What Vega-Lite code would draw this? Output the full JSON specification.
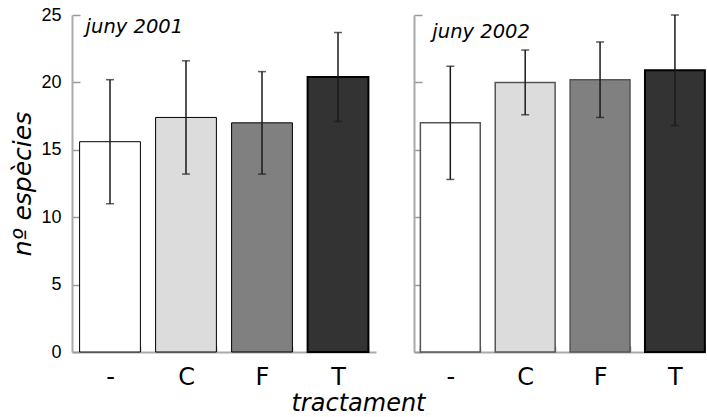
{
  "$schema": "https://vega.github.io/schema/vega-lite/v6.json",
  "background": "white",
  "padding": {"left": 10, "top": 6, "right": 0, "bottom": 0},
  "spacing": 37,
  "datasets": {
    "any2001": [
      {"trat": "-", "mitjana": 15.6, "inf": 11.0, "sup": 20.2},
      {"trat": "C", "mitjana": 17.4, "inf": 13.2, "sup": 21.6},
      {"trat": "F", "mitjana": 17.0, "inf": 13.2, "sup": 20.8},
      {"trat": "T", "mitjana": 20.4, "inf": 17.1, "sup": 23.7}
    ],
    "any2002": [
      {"trat": "-", "mitjana": 17.0, "inf": 12.8, "sup": 21.2},
      {"trat": "C", "mitjana": 20.0, "inf": 17.6, "sup": 22.4},
      {"trat": "F", "mitjana": 20.2, "inf": 17.4, "sup": 23.0},
      {"trat": "T", "mitjana": 20.9, "inf": 16.8, "sup": 25.0}
    ]
  },
  "title": {
    "text": "tractament",
    "orient": "bottom",
    "anchor": "middle",
    "font": "DejaVu Sans",
    "fontStyle": "italic",
    "fontWeight": "normal",
    "fontSize": 24,
    "color": "#000",
    "offset": 3
  },
  "config": {
    "view": {"stroke": null},
    "scale": {"continuousPadding": 0},
    "axis": {
      "grid": false,
      "domainColor": "#aaaaaa",
      "domainWidth": 2,
      "tickColor": "#999999",
      "tickWidth": 1.5,
      "labelColor": "#000",
      "titleColor": "#000"
    }
  },
  "hconcat": [
    {
      "width": 304,
      "height": 337,
      "data": {"name": "any2001"},
      "encoding": {
        "x": {
          "field": "trat",
          "type": "nominal",
          "sort": ["-", "C", "F", "T"],
          "scale": {"paddingInner": 0.2, "paddingOuter": 0.1},
          "axis": {
            "title": null,
            "labelAngle": 0,
            "labelFont": "DejaVu Sans",
            "labelFontSize": 24,
            "labelPadding": 19,
            "tickBand": "extent",
            "tickSize": -6,
            "tickColor": "#888888"
          }
        }
      },
      "layer": [
        {
          "mark": {"type": "bar", "stroke": "#000"},
          "encoding": {
            "y": {
              "field": "mitjana",
              "type": "quantitative",
              "scale": {"domain": [0, 25], "padding": 0, "nice": false, "zero": true},
              "axis": {
                "values": [0, 5, 10, 15, 20, 25],
                "tickSize": -8,
                "labelFont": "Liberation Sans",
                "labelFontSize": 18,
                "labelPadding": 19,
                "title": "nº espècies",
                "titleFont": "DejaVu Sans",
                "titleFontStyle": "italic",
                "titleFontWeight": "normal",
                "titleFontSize": 25,
                "titlePadding": 5
              }
            },
            "fill": {
              "field": "trat",
              "type": "nominal",
              "scale": {"domain": ["-", "C", "F", "T"], "range": ["#ffffff", "#dcdcdc", "#808080", "#333333"]},
              "legend": null
            },
            "strokeWidth": {"condition": {"test": "datum.trat === 'T'", "value": 2}, "value": 1}
          }
        },
        {
          "mark": {"type": "rule", "color": "#1a1a1a", "strokeWidth": 1.5},
          "encoding": {
            "y": {"field": "inf", "type": "quantitative"},
            "y2": {"field": "sup"}
          }
        },
        {
          "mark": {"type": "tick", "color": "#1a1a1a", "size": 8, "thickness": 1.5},
          "encoding": {"y": {"field": "sup", "type": "quantitative"}}
        },
        {
          "mark": {"type": "tick", "color": "#1a1a1a", "size": 8, "thickness": 1.5},
          "encoding": {"y": {"field": "inf", "type": "quantitative"}}
        },
        {
          "data": {"values": [{"etiqueta": "juny 2001"}]},
          "mark": {"type": "text", "font": "DejaVu Sans", "fontStyle": "italic", "fontSize": 19.5, "align": "left", "baseline": "alphabetic", "dx": 6, "dy": 18, "color": "#000"},
          "encoding": {
            "x": {"datum": "-", "bandPosition": 0},
            "y": {"datum": 25},
            "text": {"field": "etiqueta"}
          }
        }
      ]
    },
    {
      "width": 292,
      "height": 337,
      "data": {"name": "any2002"},
      "encoding": {
        "x": {
          "field": "trat",
          "type": "nominal",
          "sort": ["-", "C", "F", "T"],
          "scale": {"paddingInner": 0.2, "paddingOuter": 0.05, "align": 0.85},
          "axis": {
            "title": null,
            "labelAngle": 0,
            "labelFont": "DejaVu Sans",
            "labelFontSize": 24,
            "labelPadding": 19,
            "tickBand": "extent",
            "tickSize": -6,
            "tickColor": "#888888"
          }
        }
      },
      "layer": [
        {
          "mark": {"type": "bar", "stroke": "#555555", "strokeWidth": 1.5},
          "encoding": {
            "y": {
              "field": "mitjana",
              "type": "quantitative",
              "scale": {"domain": [0, 25], "padding": 0, "nice": false, "zero": true},
              "axis": {
                "values": [0, 5, 10, 15, 20, 25],
                "tickSize": -8,
                "labels": false,
                "title": null
              }
            },
            "fill": {
              "field": "trat",
              "type": "nominal",
              "scale": {"domain": ["-", "C", "F", "T"], "range": ["#ffffff", "#dcdcdc", "#808080", "#333333"]},
              "legend": null
            },
            "stroke": {"condition": {"test": "datum.trat === 'T'", "value": "#000"}, "value": "#555555"},
            "strokeWidth": {"condition": {"test": "datum.trat === 'T'", "value": 2}, "value": 1.5}
          }
        },
        {
          "mark": {"type": "rule", "color": "#1a1a1a", "strokeWidth": 1.5},
          "encoding": {
            "y": {"field": "inf", "type": "quantitative"},
            "y2": {"field": "sup"}
          }
        },
        {
          "mark": {"type": "tick", "color": "#1a1a1a", "size": 8, "thickness": 1.5},
          "encoding": {"y": {"field": "sup", "type": "quantitative"}}
        },
        {
          "mark": {"type": "tick", "color": "#1a1a1a", "size": 8, "thickness": 1.5},
          "encoding": {"y": {"field": "inf", "type": "quantitative"}}
        },
        {
          "data": {"values": [{"etiqueta": "juny 2002"}]},
          "mark": {"type": "text", "font": "DejaVu Sans", "fontStyle": "italic", "fontSize": 19.5, "align": "left", "baseline": "alphabetic", "dx": 12, "dy": 23, "color": "#000"},
          "encoding": {
            "x": {"datum": "-", "bandPosition": 0},
            "y": {"datum": 25},
            "text": {"field": "etiqueta"}
          }
        }
      ]
    }
  ]
}
